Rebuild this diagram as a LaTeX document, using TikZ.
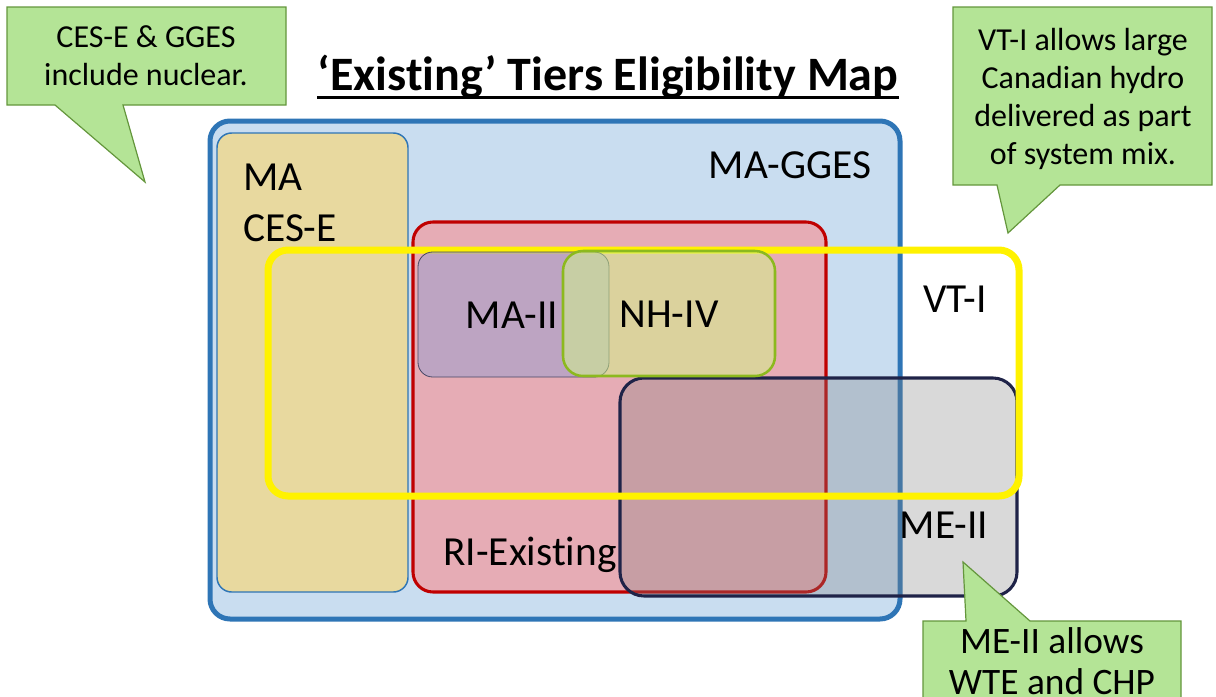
\documentclass[tikz,border=0pt]{standalone}
\usepackage{fontspec}
\setmainfont[Ligatures=NoCommon]{Carlito}
\definecolor{ggesfill}{RGB}{201,221,240}
\definecolor{ggesline}{RGB}{46,117,182}
\definecolor{cesfill}{RGB}{232,217,159}
\definecolor{rifill}{RGB}{230,172,181}
\definecolor{riline}{RGB}{192,0,0}
\definecolor{meline}{RGB}{31,35,72}
\definecolor{mafill}{RGB}{163,160,204}
\definecolor{maline}{RGB}{70,70,100}
\definecolor{nhfill}{RGB}{210,248,135}
\definecolor{nhline}{RGB}{140,185,30}
\definecolor{notefill}{RGB}{180,228,150}
\definecolor{noteline}{RGB}{100,150,60}
\tikzset{
	lbl/.style={inner sep=0pt, anchor=base, font=\fontsize{31}{38}\selectfont},
	note/.style={fill=notefill, draw=noteline, line width=0.9pt},
	notetext/.style={inner sep=0pt, align=center, font=\fontsize{24}{28.5}\selectfont}
}
\begin{document}
\begin{tikzpicture}[x=0.75pt,y=-0.75pt]
	\useasboundingbox (0,0) rectangle (1216,696);
	% sets
	\draw[fill=ggesfill, draw=ggesline, line width=3.75pt, rounded corners=15pt] (210,121) rectangle (900,619);
	\draw[fill=cesfill, draw=ggesline, line width=1.1pt, rounded corners=11pt] (217,133) rectangle (408,592);
	\draw[fill=rifill, draw=riline, line width=2.3pt, rounded corners=15pt] (413,222) rectangle (826,592);
	\draw[fill=gray, fill opacity=0.3, draw=meline, line width=2.3pt, rounded corners=18pt] (620,378) rectangle (1017,596);
	\draw[draw=yellow, line width=5.25pt, rounded corners=15pt] (268,250) rectangle (1019,496);
	\draw[fill=mafill, fill opacity=0.6, draw=maline, line width=0.6pt, rounded corners=11pt] (418,252) rectangle (609,377);
	\draw[fill=nhfill, fill opacity=0.5, draw=nhline, line width=1.9pt, rounded corners=15pt] (563,251) rectangle (775,376);
	% labels
	\node (gges) at (790,178) [lbl] {MA-GGES};
	\node (ces)  at (243,164) [lbl, anchor=north west, align=left] {MA\\CES-E};
	\node (vt)   at (955,312) [lbl] {VT-I};
	\node (maii) at (512,328) [lbl] {MA-II};
	\node (nhiv) at (669,327) [lbl] {NH-IV};
	\node (meii) at (944,538) [lbl] {ME-II};
	\node (ri)   at (530,565) [lbl] {RI-Existing};
	% title
	\node (title) at (608,90) [inner sep=0pt, anchor=base, font=\fontsize{36}{43}\selectfont\bfseries] {‘Existing’ Tiers Eligibility Map};
	\draw[line width=2.2pt] ([yshift=-5.5pt]title.base west) -- ([yshift=-5.5pt]title.base east);
	% callouts
	\draw[note] (7,7) -- (286,7) -- (286,105) -- (123,105) -- (145,182) -- (55,105) -- (7,105) -- cycle;
	\node (n1) at (146,56) [notetext] {CES-E \& GGES\\include nuclear.};
	\draw[note] (953,7) -- (1212,7) -- (1212,185) -- (1060,185) -- (1008,233) -- (997,185) -- (953,185) -- cycle;
	\node (n2) at (1083,99) [notetext] {VT-I allows large\\Canadian hydro\\delivered as part\\of system mix.};
	\draw[note] (923,621) -- (966,621) -- (963,562) -- (1030,621) -- (1181,621) -- (1181,720) -- (923,720) -- cycle;
	\node (n3) at (1052,661) [notetext, font=\fontsize{28}{31}\selectfont] {ME-II allows\\WTE and CHP};
\end{tikzpicture}
\end{document}
